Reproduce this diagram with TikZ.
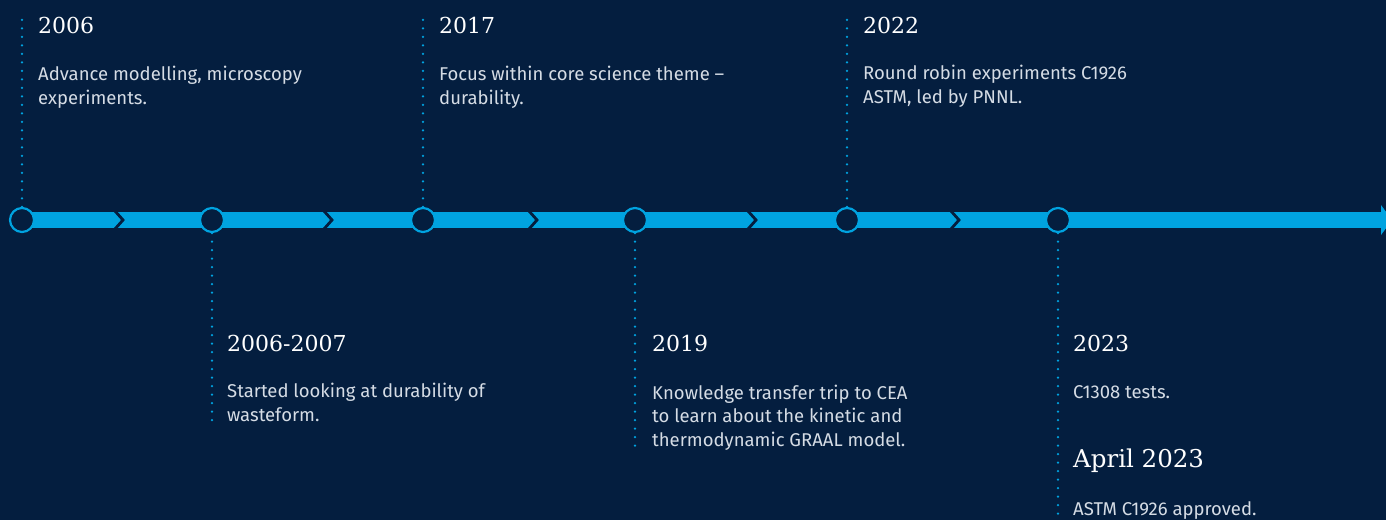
\documentclass[tikz,border=0pt]{standalone}
\usepackage{fontspec}
\setmainfont{Fira Sans}
\newfontfamily\yearfont{DejaVu Serif}
\usetikzlibrary{backgrounds}
\definecolor{bg}{HTML}{041E3F}
\definecolor{bar}{HTML}{00A3E0}
\definecolor{bodytxt}{HTML}{D5DCE5}
\begin{document}
\begin{tikzpicture}[x=1pt,y=-1pt,
  milestone/.style={circle, draw=bar, line width=2.2pt, fill=bg, minimum size=24pt, inner sep=0pt},
  year/.style={anchor=base west, text=white, inner sep=0pt, font=\yearfont\fontsize{22}{26}\selectfont},
  bigyear/.style={year, font=\yearfont\fontsize{24.5}{30}\selectfont},
  desc/.style={anchor=base west, text=bodytxt, inner sep=0pt, align=left, font=\fontsize{18.5}{23.5}\selectfont},
  dotline/.style={draw=bar, line width=2.6pt, line cap=round, dash pattern=on 0pt off 8.5pt},
  barline/.style={draw=bar, line width=16pt},
  chev/.style={draw=bg, line width=2.8pt, line join=miter},
]
\useasboundingbox (0,0) rectangle (1386,520);
% milestones
\node[milestone] (m1) at (22,220) {};
\node[milestone] (m2) at (212,220) {};
\node[milestone] (m3) at (423,220) {};
\node[milestone] (m4) at (635,220) {};
\node[milestone] (m5) at (847,220) {};
\node[milestone] (m6) at (1058,220) {};
\coordinate (barend) at (1382,220);
\coordinate (t1) at (22,15);
\coordinate (t3) at (423,15);
\coordinate (t5) at (847,15);
\coordinate (b2) at (212,424);
\coordinate (b4) at (635,449);
\coordinate (b6) at (1058,514);
\begin{pgfonlayer}{background}
  \fill[bg] (0,0) rectangle (1386,520);
  \draw[barline] (m1.center) -- (barend);
  \fill[bar] (1381,205) -- (1392,220) -- (1381,235) -- cycle;
  \foreach \cx in {119,328,533,752,955}{
    \draw[chev] (\cx-4,211) -- (\cx+4,220) -- (\cx-4,229);
  }
\end{pgfonlayer}
% dotted leaders
\draw[dotline] (m1.north) -- (t1);
\draw[dotline] (m3.north) -- (t3);
\draw[dotline] (m5.north) -- (t5);
\draw[dotline] (m2.south) -- (b2);
\draw[dotline] (m4.south) -- (b4);
\draw[dotline] (m6.south) -- (b6);
% texts (desc nodes anchored at the baseline of their last line)
\node[year] (y1) at (38,33) {2006};
\node[desc] (d1) at (38,104) {Advance modelling, microscopy\\experiments.};
\node[year] (y3) at (439,33) {2017};
\node[desc] (d3) at (439,104) {Focus within core science theme –\\durability.};
\node[year] (y5) at (863,33) {2022};
\node[desc] (d5) at (863,103) {Round robin experiments C1926\\ASTM, led by PNNL.};
\node[year] (y2) at (227,351) {2006-2007};
\node[desc] (d2) at (227,421) {Started looking at durability of\\wasteform.};
\node[year] (y4) at (652,351) {2019};
\node[desc] (d4) at (652,446) {Knowledge transfer trip to CEA\\to learn about the kinetic and\\thermodynamic GRAAL model.};
\node[year] (y6) at (1073,351) {2023};
\node[desc] (d6) at (1073,398) {C1308 tests.};
\node[bigyear] (y7) at (1073,467) {April 2023};
\node[desc] (d7) at (1073,515) {ASTM C1926 approved.};
\end{tikzpicture}
\end{document}
